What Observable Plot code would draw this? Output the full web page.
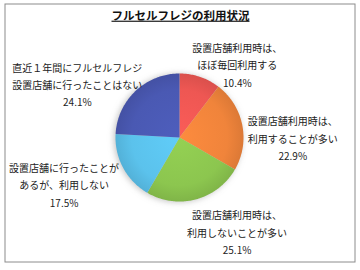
<!DOCTYPE html>
<html>
<head>
<meta charset="utf-8">
<script src="https://cdn.jsdelivr.net/npm/d3@7"></script>
<script src="https://cdn.jsdelivr.net/npm/@observablehq/plot@0.6"></script>
<style>
  html, body { margin: 0; padding: 0; background: #fff; }
</style>
</head>
<body>
<div id="chart"></div>
<script>
const title = "フルセルフレジの利用状況";
const categories = [
  "設置店舗利用時は、\nほぼ毎回利用する",
  "設置店舗利用時は、\n利用することが多い",
  "設置店舗利用時は、\n利用しないことが多い",
  "設置店舗に行ったことが\nあるが、利用しない",
  "直近１年間にフルセルフレジ\n設置店舗に行ったことはない"
];
const values = [10.4, 22.9, 25.1, 17.5, 24.1];
const colors = ["#EE5753", "#F0843B", "#8CC64F", "#5BC2EC", "#4A59B3"];

// layout (not data)
const W = 360, H = 270, cx = 179, cy = 137, R = 64;
const labelNudge = [[26, 20], [16, 19], [32, -2], [-28, -1], [-34, 18]];

const arcs = d3.pie().sort(null).value(d => d)(values);

// polygon vertices of each slice derived from the pie angles
const pts = [];
arcs.forEach((a, i) => {
  pts.push({k: i, x: 0, y: 0});
  const n = Math.max(4, Math.ceil((a.endAngle - a.startAngle) / (Math.PI / 180)));
  for (let j = 0; j <= n; j++) {
    const t = a.startAngle + (a.endAngle - a.startAngle) * j / n;
    pts.push({k: i, x: Math.sin(t), y: Math.cos(t)});
  }
});

const labels = arcs.map((a, i) => {
  const m = (a.startAngle + a.endAngle) / 2;
  return {
    i,
    x: Math.sin(m) * 1.55,
    y: Math.cos(m) * 1.55,
    text: categories[i] + "\n" + values[i].toFixed(1) + "%"
  };
});

const font = "'Noto Sans CJK JP', 'Noto Sans', sans-serif";

const chart = Plot.plot({
  width: W,
  height: H,
  margin: 0,
  style: {fontFamily: font, background: "#fff", overflow: "visible"},
  x: {domain: [-1, 1], range: [cx - R, cx + R], axis: null},
  y: {domain: [-1, 1], range: [cy + R, cy - R], axis: null},
  color: {type: "ordinal", domain: d3.range(values.length), range: colors.map((c, i) => `url(#g${i})`)},
  marks: [
    Plot.frame({stroke: "#8c8c8c", insetLeft: 4.5, insetTop: 3.5, insetRight: 5.5, insetBottom: 8.5}),
    Plot.dot([0], {x: () => 0, y: () => 0, r: R, fill: "#9a9a9a", stroke: "none", fillOpacity: 0.6}),
    Plot.line(pts, {x: "x", y: "y", z: "k", fill: "k", stroke: "none", curve: "linear-closed"}),
    ...labels.map(l => Plot.text([l], {
      x: "x", y: "y", text: "text",
      dx: labelNudge[l.i][0], dy: labelNudge[l.i][1],
      fontSize: 10, lineHeight: 1.75, fill: "#222", textAnchor: "middle"
    })),
    Plot.text([title], {
      text: d => d, frameAnchor: "top", dy: 11, fontSize: 11.5, fontWeight: "bold", fill: "#111"
    })
  ]
});

// gradients and soft shadow
const svg = d3.select(chart);
const defs = svg.insert("defs", ":first-child");
colors.forEach((c, i) => {
  const g = defs.append("radialGradient").attr("id", `g${i}`)
    .attr("gradientUnits", "userSpaceOnUse").attr("cx", cx).attr("cy", cy).attr("r", R);
  g.append("stop").attr("offset", "0%").attr("stop-color", d3.color(c).brighter(0.15));
  g.append("stop").attr("offset", "75%").attr("stop-color", c);
  g.append("stop").attr("offset", "100%").attr("stop-color", d3.color(c).darker(0.25));
});
const f = defs.append("filter").attr("id", "blur").attr("x", "-30%").attr("y", "-30%").attr("width", "160%").attr("height", "160%");
f.append("feGaussianBlur").attr("stdDeviation", 3);
svg.selectAll('g[aria-label="dot"]').attr("filter", "url(#blur)").attr("transform", "translate(-1,1)");
svg.selectAll('g[aria-label="text"]').filter((d, i, n) => n[i].textContent === title)
  .selectAll("text").attr("text-decoration", "underline");

document.getElementById("chart").appendChild(chart);
</script>
</body>
</html>
